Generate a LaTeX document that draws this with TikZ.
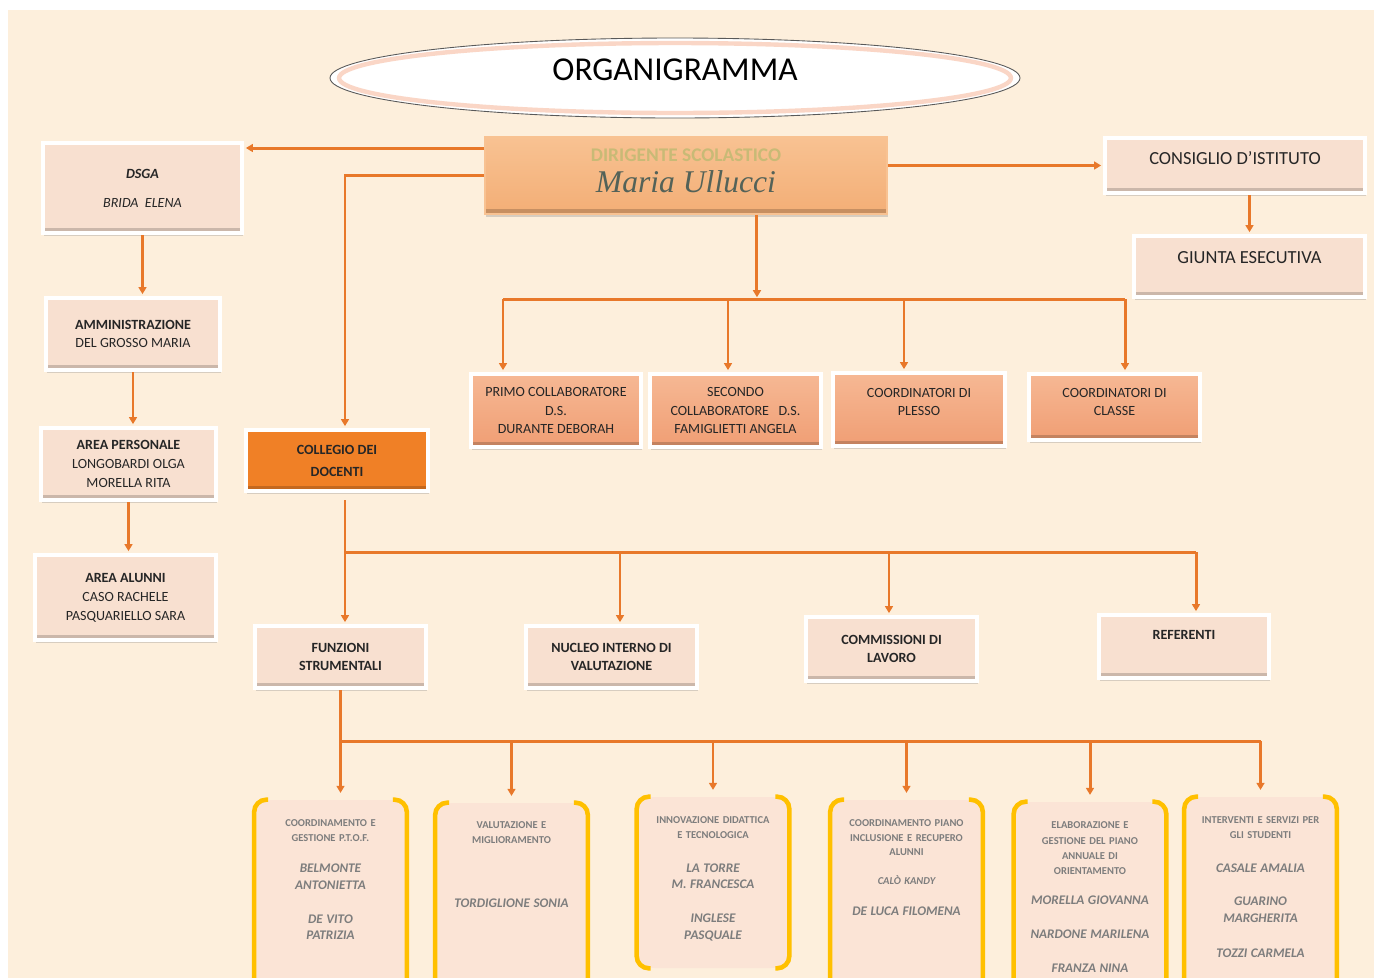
\documentclass[tikz,border=0pt]{standalone}
\usepackage{fontspec}
\setmainfont{Carlito}
\newfontfamily\namefont{Liberation Serif}
\usetikzlibrary{shapes.geometric,arrows.meta,shadows}

\definecolor{bgbeige}{RGB}{253,239,220}
\definecolor{lineor}{RGB}{232,120,42}
\definecolor{boxpink}{RGB}{248,224,208}
\definecolor{salmontop}{RGB}{246,184,148}
\definecolor{salmonbot}{RGB}{240,158,116}
\definecolor{dirtop}{RGB}{248,194,146}
\definecolor{dirbot}{RGB}{243,174,118}
\definecolor{collor}{RGB}{240,128,38}
\definecolor{peach}{RGB}{251,228,214}
\definecolor{gold}{RGB}{255,192,0}
\definecolor{txtdark}{RGB}{38,38,38}
\definecolor{txtgray}{RGB}{125,125,125}
\definecolor{khaki}{RGB}{200,186,118}
\definecolor{namegreen}{RGB}{84,98,88}
\definecolor{pinkglow}{RGB}{250,214,198}

\newcommand\pxl{0.02cm}
\newcommand\nm{\fontsize{7.5}{9.6}\selectfont\itshape}

\tikzset{
  conn/.style={draw=lineor, line width=1.7pt},
  arr/.style={conn, -{Triangle[length=4pt,width=4.5pt]}, shorten >=1pt},
  boxsize/.style 2 args={minimum width=#1*\pxl, minimum height=#2*\pxl},
  panel/.style={draw=white, line width=2.4pt, align=center, inner sep=1pt,
    text=txtdark, font=\fontsize{8}{10.5}\selectfont,
    drop shadow={shadow xshift=0.6pt, shadow yshift=-1.6pt, opacity=0.3, fill=gray},
    path picture={\fill[black, opacity=0.18]
      ([yshift=3pt]path picture bounding box.south west) rectangle (path picture bounding box.south east);}},
  lightbox/.style={panel, fill=boxpink},
  salmonbox/.style={panel, top color=salmontop, bottom color=salmonbot},
  fbox/.style={fill=peach, rounded corners=10pt, minimum width=152*\pxl},
  bracket/.style={draw=gold, line width=2.6pt, rounded corners=7pt},
  ftext/.style={text width=148*\pxl, align=center, inner sep=0pt, anchor=north,
    text=txtgray, font=\fontsize{6}{8.2}\selectfont\bfseries}
}

\begin{document}
\begin{tikzpicture}[x=\pxl, y=-\pxl]
  \useasboundingbox (0,0) rectangle (1374,978);
  \clip (0,0) rectangle (1374,978);
  \fill[white] (0,0) rectangle (1374,978);
  \fill[bgbeige] (8,10) rectangle (1374,978);

  % title
  \node (title) [ellipse, draw=gray!70!black, line width=0.5pt, fill=white,
    minimum width=690*\pxl, minimum height=80*\pxl,
    font=\fontsize{19}{23}\selectfont, text depth=0.35cm] at (675,78) {ORGANIGRAMMA};
  \draw[pinkglow, line width=2.5pt] (title.center) ellipse [x radius=6.72cm, y radius=0.7cm];

  % dirigente and left column
  \node (dir) [panel, boxsize={402}{77}, top color=dirtop, bottom color=dirbot,
    draw=dirtop, line width=1pt, text depth=0.18cm] at (686,175.5)
    {{\bfseries\fontsize{11}{13}\selectfont\color{khaki}DIRIGENTE SCOLASTICO}\\[4pt]
     {\namefont\itshape\fontsize{18}{20}\selectfont\color{namegreen}Maria Ullucci}};
  \node (dsga) [lightbox, boxsize={199}{90}] at (142.5,188)
    {{\bfseries\itshape DSGA}\\[6pt]{\itshape BRIDA\ \ ELENA}};
  \node (amm) [lightbox, boxsize={174}{72}] at (133,334)
    {{\bfseries AMMINISTRAZIONE}\\DEL GROSSO MARIA};
  \node (pers) [lightbox, boxsize={175}{72}, font=\fontsize{8}{10.8}\selectfont] at (128.5,464)
    {{\bfseries AREA PERSONALE}\\LONGOBARDI OLGA\\MORELLA RITA};
  \node (alun) [lightbox, boxsize={181}{85}, font=\fontsize{8}{10.8}\selectfont] at (125.5,597.5)
    {{\bfseries AREA ALUNNI}\\CASO RACHELE\\PASQUARIELLO SARA};

  % consiglio
  \node (cons) [lightbox, boxsize={260}{55}, font=\fontsize{10.5}{12}\selectfont,
    text depth=0.3cm] at (1235,165.5) {CONSIGLIO D’ISTITUTO};
  \node (giunta) [lightbox, boxsize={231}{61}, font=\fontsize{10.5}{12}\selectfont,
    text depth=0.35cm] at (1249.5,266.5) {GIUNTA ESECUTIVA};

  % collaboratori
  \node (primo) [salmonbox, boxsize={170}{73}] at (556,410.5)
    {PRIMO COLLABORATORE\\D.S.\\DURANTE DEBORAH};
  \node (secondo) [salmonbox, boxsize={171}{73}] at (735.5,410.5)
    {SECONDO\\COLLABORATORE\ \ \ D.S.\\FAMIGLIETTI ANGELA};
  \node (plesso) [salmonbox, boxsize={172}{73}, text depth=0.3cm] at (919,409.5)
    {COORDINATORI DI\\PLESSO};
  \node (classe) [salmonbox, boxsize={171}{66}, text depth=0.2cm] at (1114.5,407)
    {COORDINATORI DI\\CLASSE};

  % collegio
  \node (coll) [panel, fill=collor, boxsize={182}{61}, font=\fontsize{8}{12.5}\selectfont\bfseries]
    at (337,460.5) {COLLEGIO DEI\\DOCENTI};
  \node (funz) [lightbox, boxsize={171}{62}, font=\fontsize{8}{10.2}\selectfont\bfseries]
    at (340.5,657) {FUNZIONI\\STRUMENTALI};
  \node (nucleo) [lightbox, boxsize={171}{62}, font=\fontsize{8}{10.2}\selectfont\bfseries]
    at (611.5,657) {NUCLEO INTERNO DI\\VALUTAZIONE};
  \node (comm) [lightbox, boxsize={171}{64}, font=\fontsize{8}{10.5}\selectfont\bfseries]
    at (891.5,649) {COMMISSIONI DI\\LAVORO};
  \node (refer) [lightbox, boxsize={170}{63}, font=\fontsize{8}{10.5}\selectfont\bfseries,
    text depth=0.45cm] at (1184,646.5) {REFERENTI};

  % funzioni strumentali
  \node (f1) [fbox, minimum height=190*\pxl] at (330.5,895) {};
  \node (f2) [fbox, minimum height=187*\pxl] at (511.5,896.5) {};
  \node (f3) [fbox, minimum height=171*\pxl] at (713,882.5) {};
  \node (f4) [fbox, minimum height=190*\pxl] at (906.5,895) {};
  \node (f5) [fbox, minimum height=188*\pxl] at (1090,896) {};
  \node (f6) [fbox, minimum height=193*\pxl] at (1260.5,893.5) {};
  \foreach \i in {1,...,6} {
    \draw[bracket] ([xshift=8pt]f\i.north west) -- (f\i.north west)
      -- (f\i.south west) -- ([xshift=8pt]f\i.south west);
    \draw[bracket] ([xshift=-8pt]f\i.north east) -- (f\i.north east)
      -- (f\i.south east) -- ([xshift=-8pt]f\i.south east);
  }
  \node (t1) [ftext] at ([yshift=-0.40cm]f1.north)
    {COORDINAMENTO E\\GESTIONE P.T.O.F.\\[9.5pt]{\nm BELMONTE}\\[1.4pt]{\nm ANTONIETTA}\\[11pt]{\nm DE VITO}\\[1.4pt]{\nm PATRIZIA}};
  \node (t2) [ftext] at ([yshift=-0.38cm]f2.north)
    {VALUTAZIONE E\\MIGLIORAMENTO\\[28.5pt]{\nm TORDIGLIONE SONIA}};
  \node (t3) [ftext] at ([yshift=-0.40cm]f3.north)
    {INNOVAZIONE DIDATTICA\\E TECNOLOGICA\\[11pt]{\nm LA TORRE}\\[1.4pt]{\nm M. FRANCESCA}\\[11pt]{\nm INGLESE}\\[1.4pt]{\nm PASQUALE}};
  \node (t4) [ftext] at ([yshift=-0.40cm]f4.north)
    {COORDINAMENTO PIANO\\INCLUSIONE E RECUPERO\\ALUNNI\\[8.2pt]{\itshape\fontsize{6}{8}\selectfont CALÒ KANDY}\\[9.4pt]{\nm DE LUCA FILOMENA}};
  \node (t5) [ftext] at ([yshift=-0.40cm]f5.north)
    {ELABORAZIONE E\\[0.5pt]GESTIONE DEL PIANO\\[0.5pt]ANNUALE DI\\[0.5pt]ORIENTAMENTO\\[8.6pt]{\nm MORELLA GIOVANNA}\\[11.3pt]{\nm NARDONE MARILENA}\\[11.3pt]{\nm FRANZA NINA}};
  \node (t6) [ftext] at ([yshift=-0.40cm]f6.north)
    {INTERVENTI E SERVIZI PER\\GLI STUDENTI\\[11pt]{\nm CASALE AMALIA}\\[11pt]{\nm GUARINO}\\[1.4pt]{\nm MARGHERITA}\\[11.6pt]{\nm TOZZI CARMELA}};

  % connectors from dirigente
  \coordinate (d1) at ([yshift=0.55cm]dir.west);
  \draw[arr] (d1) -- (d1 -| dsga.east);
  \coordinate (ct) at ([xshift=0.16cm]coll.north);
  \draw[arr] (dir.west) -| (ct);
  \draw[arr] (dir.east |- cons.west) -- (cons.west);
  \draw[arr] (giunta.north |- cons.south) -- (giunta.north);

  \draw[arr] (dsga.south) -- (dsga.south |- amm.north);
  \draw[arr] (amm.south) -- (amm.south |- pers.north);
  \draw[arr] (pers.south) -- (pers.south |- alun.north);

  \coordinate (dtop) at ([xshift=1.42cm]dir.south);
  \coordinate (b1a) at (503,299);
  \coordinate (b1b) at (728,299);
  \coordinate (b1c) at (904,299);
  \coordinate (b1d) at (1125,299);
  \draw[arr] (dtop) -- (dtop |- b1a);
  \draw[conn] (b1a) -- (b1d);
  \draw[arr] (b1a) -- (b1a |- primo.north);
  \draw[arr] (b1b) -- (b1b |- secondo.north);
  \draw[arr] (b1c) -- (b1c |- plesso.north);
  \draw[arr] (b1d) -- (b1d |- classe.north);

  % connectors from collegio
  \coordinate (cs) at ([xshift=0.16cm,yshift=-0.14cm]coll.south);
  \coordinate (b2a) at (345,552);
  \coordinate (b2b) at (620,552);
  \coordinate (b2c) at (889,552);
  \coordinate (b2d) at (1196,552);
  \draw[arr] (cs) -- (cs |- funz.north);
  \draw[conn] (b2a) -- (b2d);
  \draw[arr] (b2b) -- (b2b |- nucleo.north);
  \draw[arr] (b2c) -- (b2c |- comm.north);
  \draw[arr] (b2d) -- (b2d |- refer.north);

  % connectors from funzioni
  \coordinate (b3a) at (341,741);
  \coordinate (b3f) at (1261,741);
  \draw[arr] (funz.south) -- ([yshift=0.1cm]funz.south |- f1.north);
  \draw[conn] (b3a) -- (b3f);
  \foreach \i in {2,...,6}
    \draw[arr] (f\i.north |- b3a) -- ([yshift=0.1cm]f\i.north);
\end{tikzpicture}
\end{document}
